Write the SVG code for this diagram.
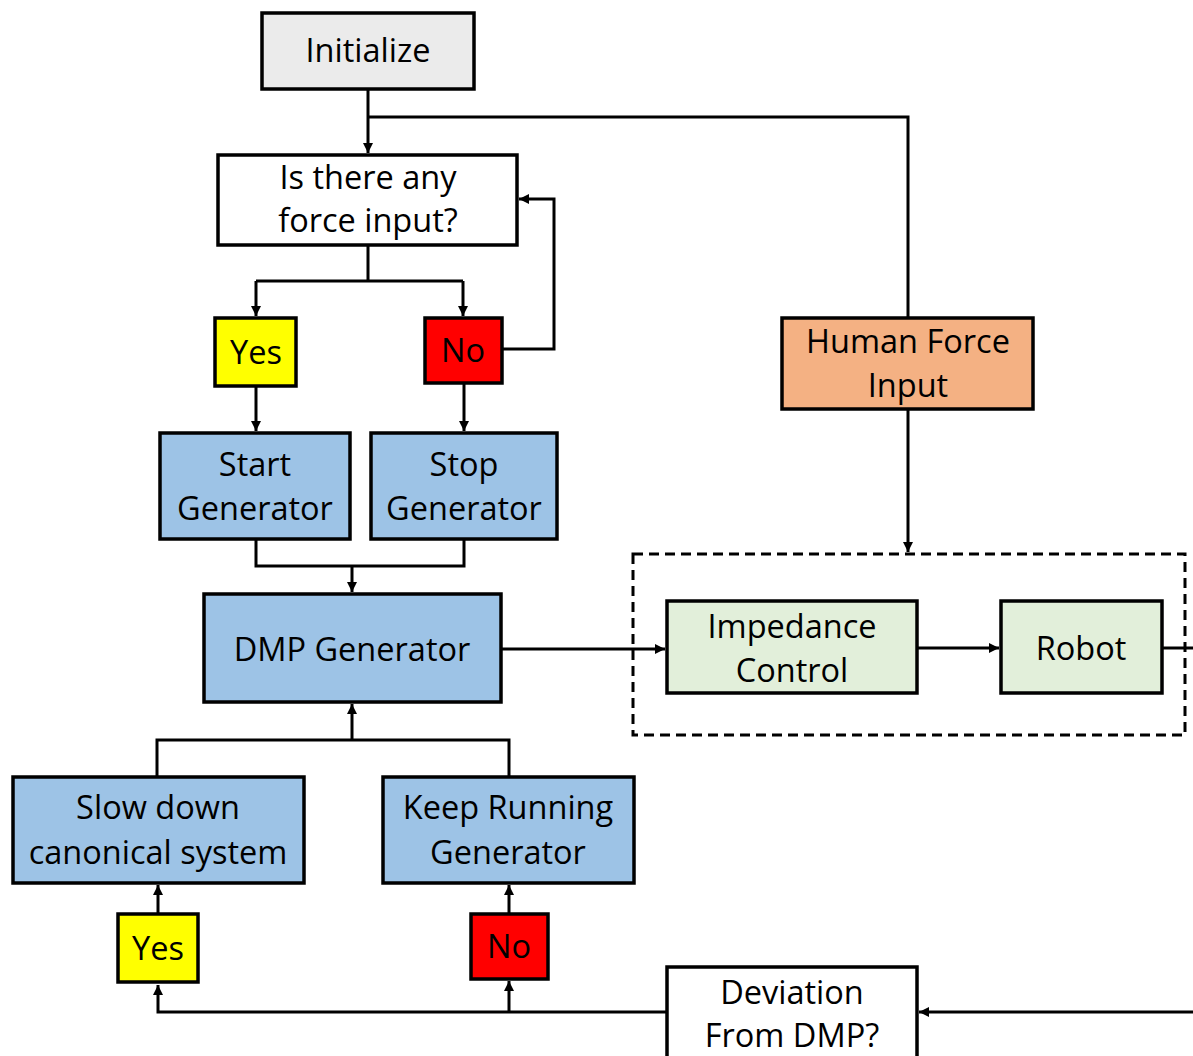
<svg xmlns="http://www.w3.org/2000/svg" width="1193" height="1056" viewBox="0 0 1193 1056">
  <defs>
    <marker id="arrow" viewBox="0 0 10 10" refX="10" refY="5" markerWidth="10" markerHeight="10" markerUnits="userSpaceOnUse" orient="auto">
      <path d="M0,0 L10,5 L0,10 Z" fill="#000"/>
    </marker>
    <style>
      .box { stroke: #000; stroke-width: 3.5; }
      .gray { fill: #ebebeb; }
      .white { fill: #ffffff; }
      .yellow { fill: #ffff00; }
      .red { fill: #ff0000; }
      .blue { fill: #9dc3e6; }
      .orange { fill: #f4b183; }
      .green { fill: #e2efda; }
      .lbl { font-family: "Open Sans", "Liberation Sans", sans-serif; font-size: 32.5px; fill: #000; text-anchor: middle; }
      .wire { fill: none; stroke: #000; stroke-width: 3; }
      .dash { fill: none; stroke: #000; stroke-width: 3; stroke-dasharray: 10 6; }
    </style>
  </defs>
  <rect width="1193" height="1056" fill="#ffffff"/>

  <!-- connectors -->
  <g id="connectors">
    <path class="wire" d="M368,89 V153" marker-end="url(#arrow)"/>
    <path class="wire" d="M368,117 H908 V318"/>
    <path class="wire" d="M368,245 V281 M256,281 H463"/>
    <path class="wire" d="M256,281 V316" marker-end="url(#arrow)"/>
    <path class="wire" d="M463,281 V316" marker-end="url(#arrow)"/>
    <path class="wire" d="M502,349 H554 V199 H519" marker-end="url(#arrow)"/>
    <path class="wire" d="M256,386 V431" marker-end="url(#arrow)"/>
    <path class="wire" d="M464,383 V431" marker-end="url(#arrow)"/>
    <path class="wire" d="M256,539 V566 H464 V539"/>
    <path class="wire" d="M352,566 V592" marker-end="url(#arrow)"/>
    <path class="wire" d="M501,649 H665" marker-end="url(#arrow)"/>
    <path class="wire" d="M908,409 V552" marker-end="url(#arrow)"/>
    <path class="wire" d="M917,648 H999" marker-end="url(#arrow)"/>
    <path class="wire" d="M1162,648 H1193"/>
    <path class="wire" d="M1193,1012 H919" marker-end="url(#arrow)"/>
    <path class="wire" d="M667,1012 H158 V985" marker-end="url(#arrow)"/>
    <path class="wire" d="M509,1012 V981" marker-end="url(#arrow)"/>
    <path class="wire" d="M158,914 V885" marker-end="url(#arrow)"/>
    <path class="wire" d="M509,914 V885" marker-end="url(#arrow)"/>
    <path class="wire" d="M157,777 V740 H509 V777"/>
    <path class="wire" d="M352,740 V704" marker-end="url(#arrow)"/>
  </g>

  <!-- dashed enclosure around controller and robot -->
  <rect id="control-loop" class="dash" x="633" y="554" width="552" height="181"/>

  <g id="initialize">
    <rect class="box gray" x="262" y="13" width="212" height="76"/>
    <text class="lbl" x="368" y="62">Initialize</text>
  </g>
  <g id="force-query">
    <rect class="box white" x="218" y="155" width="299" height="90"/>
    <text class="lbl" x="368" y="189">Is there any</text>
    <text class="lbl" x="368" y="232">force input?</text>
  </g>
  <g id="yes-top">
    <rect class="box yellow" x="215" y="318" width="81" height="68"/>
    <text class="lbl" x="256" y="364">Yes</text>
  </g>
  <g id="no-top">
    <rect class="box red" x="425" y="318" width="77" height="65"/>
    <text class="lbl" x="463" y="362">No</text>
  </g>
  <g id="start-generator">
    <rect class="box blue" x="160" y="433" width="190" height="106"/>
    <text class="lbl" x="255" y="476">Start</text>
    <text class="lbl" x="255" y="520">Generator</text>
  </g>
  <g id="stop-generator">
    <rect class="box blue" x="371" y="433" width="186" height="106"/>
    <text class="lbl" x="464" y="476">Stop</text>
    <text class="lbl" x="464" y="520">Generator</text>
  </g>
  <g id="dmp-generator">
    <rect class="box blue" x="204" y="594" width="297" height="108"/>
    <text class="lbl" x="352" y="661">DMP Generator</text>
  </g>
  <g id="human-force">
    <rect class="box orange" x="782" y="318" width="251" height="91"/>
    <text class="lbl" x="908" y="353">Human Force</text>
    <text class="lbl" x="908" y="397">Input</text>
  </g>
  <g id="impedance-control">
    <rect class="box green" x="667" y="601" width="250" height="92"/>
    <text class="lbl" x="792" y="638">Impedance</text>
    <text class="lbl" x="792" y="682">Control</text>
  </g>
  <g id="robot">
    <rect class="box green" x="1001" y="601" width="161" height="92"/>
    <text class="lbl" x="1081" y="660">Robot</text>
  </g>
  <g id="slow-down">
    <rect class="box blue" x="13" y="777" width="291" height="106"/>
    <text class="lbl" x="158" y="819">Slow down</text>
    <text class="lbl" x="158" y="864">canonical system</text>
  </g>
  <g id="keep-running">
    <rect class="box blue" x="383" y="777" width="251" height="106"/>
    <text class="lbl" x="508" y="819">Keep Running</text>
    <text class="lbl" x="508" y="864">Generator</text>
  </g>
  <g id="yes-bottom">
    <rect class="box yellow" x="118" y="914" width="80" height="68"/>
    <text class="lbl" x="158" y="960">Yes</text>
  </g>
  <g id="no-bottom">
    <rect class="box red" x="471" y="914" width="77" height="65"/>
    <text class="lbl" x="509" y="958">No</text>
  </g>
  <g id="deviation">
    <rect class="box white" x="667" y="967" width="250" height="100"/>
    <text class="lbl" x="792" y="1004">Deviation</text>
    <text class="lbl" x="792" y="1047">From DMP?</text>
  </g>
</svg>
